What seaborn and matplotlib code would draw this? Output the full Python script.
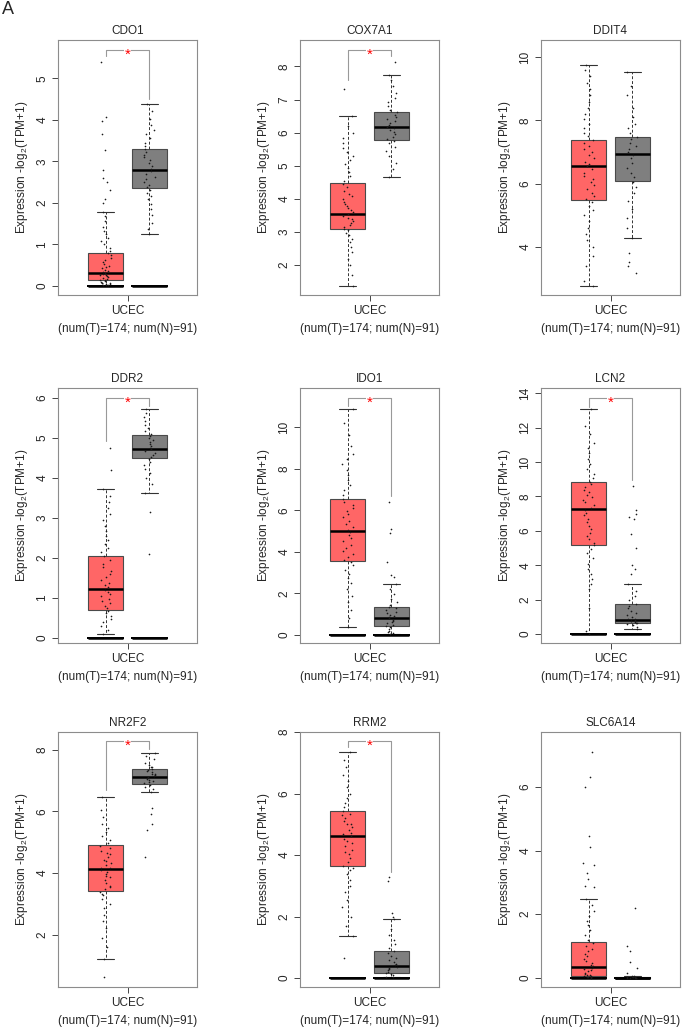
import numpy as np
import pandas as pd
import matplotlib
matplotlib.use("Agg")
import matplotlib.pyplot as plt
import seaborn as sns

# ---------------- data ----------------
genes = ["CDO1", "COX7A1", "DDIT4", "DDR2", "IDO1", "LCN2", "NR2F2", "RRM2", "SLC6A14"]

# box statistics: [lower whisker, Q1, median, Q3, upper whisker]
tumor_box = [
    [0.00, 0.14, 0.30, 0.80, 1.78],
    [1.37, 3.08, 3.56, 4.47, 6.51],
    [2.76, 5.49, 6.56, 7.39, 9.77],
    [0.09, 0.69, 1.21, 2.05, 3.73],
    [0.37, 3.58, 5.02, 6.52, 10.86],
    [0.00, 5.19, 7.24, 8.84, 13.07],
    [1.22, 3.41, 4.12, 4.90, 6.46],
    [1.36, 3.63, 4.63, 5.44, 7.35],
    [0.00, 0.06, 0.35, 1.12, 2.49],
]
normal_box = [
    [1.24, 2.36, 2.78, 3.30, 4.38],
    [4.65, 5.78, 6.18, 6.63, 7.74],
    [4.28, 6.08, 6.94, 7.48, 9.53],
    [3.63, 4.49, 4.73, 5.07, 5.73],
    [0.05, 0.42, 0.81, 1.36, 2.44],
    [0.29, 0.62, 0.81, 1.74, 2.93],
    [6.61, 6.89, 7.11, 7.37, 7.89],
    [0.02, 0.17, 0.39, 0.88, 1.93],
    [0.00, 0.00, 0.00, 0.03, 0.07],
]

# individual samples (read approximately)
cdo1_t = [0.01, 0.02, 0.03, 0.04, 0.05, 0.06, 0.07, 0.08, 0.10, 0.12, 0.13, 0.15, 0.17, 0.19, 0.21,
          0.23, 0.25, 0.27, 0.29, 0.31, 0.33, 0.36, 0.39, 0.42, 0.45, 0.49, 0.53, 0.58, 0.63, 0.68,
          0.74, 0.79, 0.85, 0.92, 1.0, 1.08, 1.16, 1.25, 1.33, 1.42, 1.55, 1.68, 1.77, 2.0, 2.1, 2.3,
          2.5, 2.6, 2.78, 3.27, 3.65, 3.97, 4.07, 5.4]
cdo1_n = [1.24, 1.38, 1.52, 1.70, 1.85, 1.98, 2.08, 2.16, 2.24, 2.31, 2.37, 2.43, 2.50, 2.57, 2.63,
          2.70, 2.76, 2.82, 2.88, 2.95, 3.02, 3.10, 3.16, 3.22, 3.29, 3.36, 3.45, 3.56, 3.66, 3.75,
          3.88, 4.02, 4.2, 4.38]
cox7a1_t = [1.37, 1.7, 2.0, 2.2, 2.4, 2.55, 2.7, 2.8, 2.9, 2.98, 3.05, 3.1, 3.15, 3.2, 3.26, 3.32,
            3.38, 3.44, 3.5, 3.55, 3.6, 3.66, 3.72, 3.78, 3.85, 3.92, 4.0, 4.08, 4.16, 4.25, 4.35,
            4.45, 4.55, 4.68, 4.8, 4.92, 5.05, 5.18, 5.3, 5.42, 5.55, 5.7, 5.85, 6.0, 6.2, 6.51, 7.33]
cox7a1_n = [4.65, 4.9, 5.1, 5.3, 5.45, 5.58, 5.68, 5.76, 5.82, 5.88, 5.95, 6.02, 6.08, 6.13, 6.18,
            6.23, 6.28, 6.34, 6.4, 6.47, 6.55, 6.62, 6.7, 6.8, 6.92, 7.05, 7.2, 7.4, 7.6, 7.74, 8.14]
ddit4_t = [2.76, 2.9, 3.4, 3.7, 4.0, 4.2, 4.4, 4.6, 4.8, 5.0, 5.15, 5.3, 5.42, 5.5, 5.6, 5.7, 5.82,
           5.95, 6.05, 6.15, 6.25, 6.35, 6.45, 6.55, 6.62, 6.7, 6.8, 6.9, 7.0, 7.1, 7.2, 7.3, 7.38,
           7.5, 7.6, 7.75, 7.9, 8.05, 8.2, 8.4, 8.6, 8.8, 9.0, 9.2, 9.4, 9.6, 9.77]
ddit4_n = [3.16, 3.4, 3.5, 3.79, 4.28, 4.6, 4.9, 5.2, 5.45, 5.7, 5.9, 6.05, 6.2, 6.35, 6.5, 6.65,
           6.8, 6.9, 7.0, 7.1, 7.2, 7.3, 7.4, 7.48, 7.6, 7.75, 7.9, 8.1, 8.4, 8.8, 9.1, 9.53]
ddr2_t = [0.09, 0.2, 0.3, 0.4, 0.48, 0.55, 0.62, 0.68, 0.74, 0.8, 0.86, 0.92, 0.98, 1.04, 1.1, 1.15,
          1.2, 1.26, 1.32, 1.38, 1.45, 1.52, 1.6, 1.68, 1.76, 1.85, 1.95, 2.04, 2.15, 2.25, 2.35,
          2.45, 2.55, 2.68, 2.8, 2.95, 3.1, 3.25, 3.4, 3.55, 3.73, 4.21, 4.75]
ddr2_n = [2.09, 3.16, 3.63, 3.85, 4.0, 4.12, 4.22, 4.32, 4.4, 4.47, 4.52, 4.57, 4.62, 4.67, 4.72,
          4.76, 4.8, 4.85, 4.9, 4.95, 5.0, 5.05, 5.1, 5.17, 5.25, 5.33, 5.42, 5.52, 5.62, 5.73]
ido1_t = [0.37, 0.8, 1.2, 1.6, 1.9, 2.2, 2.5, 2.75, 2.95, 3.15, 3.35, 3.5, 3.62, 3.75, 3.9, 4.05,
          4.2, 4.35, 4.5, 4.65, 4.8, 4.95, 5.05, 5.2, 5.35, 5.5, 5.65, 5.8, 5.95, 6.1, 6.25, 6.4,
          6.55, 6.75, 6.95, 7.2, 7.45, 7.7, 7.95, 8.2, 8.45, 8.7, 9.1, 9.6, 10.2, 10.86]
ido1_n = [0.05, 0.1, 0.15, 0.22, 0.3, 0.38, 0.44, 0.5, 0.56, 0.62, 0.68, 0.74, 0.8, 0.86, 0.92,
          0.98, 1.05, 1.12, 1.2, 1.28, 1.35, 1.45, 1.58, 1.75, 1.95, 2.2, 2.44, 2.8, 2.9, 3.5, 4.9,
          5.1, 6.41]
lcn2_t = [0.0, 0.2, 1.5, 2.6, 2.9, 3.2, 3.5, 3.8, 4.1, 4.4, 4.7, 4.95, 5.15, 5.3, 5.5, 5.7, 5.9,
          6.1, 6.3, 6.5, 6.7, 6.9, 7.05, 7.2, 7.35, 7.5, 7.65, 7.8, 7.95, 8.1, 8.25, 8.4, 8.55, 8.7,
          8.85, 9.05, 9.3, 9.6, 9.9, 10.2, 10.5, 10.8, 11.1, 11.6, 12.1, 13.07]
lcn2_n = [0.29, 0.4, 0.5, 0.56, 0.62, 0.66, 0.7, 0.74, 0.78, 0.81, 0.85, 0.9, 0.98, 1.08, 1.2,
          1.35, 1.5, 1.65, 1.74, 1.95, 2.2, 2.5, 2.93, 3.5, 3.8, 4.0, 5.0, 5.8, 6.7, 6.8, 7.0, 7.2,
          8.6]
nr2f2_t = [0.61, 1.22, 1.6, 1.9, 2.2, 2.45, 2.65, 2.85, 3.0, 3.15, 3.28, 3.3, 3.38, 3.48, 3.55,
           3.58, 3.68, 3.78, 3.87, 3.9, 3.95, 4.03, 4.1, 4.15, 4.17, 4.25, 4.33, 4.4, 4.42, 4.5,
           4.6, 4.65, 4.7, 4.8, 4.88, 4.97, 5.08, 5.2, 5.32, 5.45, 5.6, 5.8, 6.05, 6.46]
nr2f2_n = [4.52, 5.4, 5.6, 5.9, 6.1, 6.61, 6.72, 6.8, 6.86, 6.92, 6.95, 6.97, 7.02, 7.06, 7.08,
           7.1, 7.14, 7.18, 7.2, 7.22, 7.27, 7.32, 7.35, 7.37, 7.43, 7.45, 7.5, 7.58, 7.68, 7.78,
           7.89]
rrm2_t = [0.65, 1.36, 1.7, 2.0, 2.3, 2.55, 2.8, 3.0, 3.2, 3.38, 3.52, 3.58, 3.65, 3.78, 3.9, 4.02,
          4.1, 4.15, 4.28, 4.4, 4.45, 4.52, 4.62, 4.68, 4.72, 4.82, 4.92, 5.0, 5.02, 5.12, 5.22,
          5.3, 5.32, 5.42, 5.55, 5.7, 5.85, 6.0, 6.2, 6.4, 6.6, 6.85, 7.1, 7.35]
rrm2_n = [0.02, 0.05, 0.09, 0.13, 0.17, 0.21, 0.25, 0.29, 0.33, 0.37, 0.41, 0.46, 0.52, 0.58, 0.65,
          0.72, 0.8, 0.88, 0.98, 1.1, 1.25, 1.4, 1.6, 1.93, 2.0, 2.1, 3.15, 3.28]
slc6a14_t = [0.0, 0.01, 0.02, 0.03, 0.04, 0.05, 0.06, 0.08, 0.1, 0.13, 0.16, 0.2, 0.24, 0.28, 0.32,
             0.36, 0.4, 0.46, 0.52, 0.6, 0.68, 0.76, 0.84, 0.92, 1.0, 1.1, 1.2, 1.35, 1.5, 1.65,
             1.8, 1.95, 2.1, 2.3, 2.49, 2.85, 2.9, 3.1, 3.3, 3.55, 3.6, 4.1, 4.45, 6.0, 6.3, 7.1]
slc6a14_n = [0, 0, 0, 0, 0, 0.01, 0.01, 0.02, 0.03, 0.04, 0.05, 0.07, 0.15, 0.3, 0.5, 0.85, 1.0, 2.2]

tumor_pts = [cdo1_t, cox7a1_t, ddit4_t, ddr2_t, ido1_t, lcn2_t, nr2f2_t, rrm2_t, slc6a14_t]
normal_pts = [cdo1_n, cox7a1_n, ddit4_n, ddr2_n, ido1_n, lcn2_n, nr2f2_n, rrm2_n, slc6a14_n]

# zero-valued reference bar present under the boxes
zero_line = [True, False, False, True, True, True, False, True, True]

# significance bracket: [left arm end, top, right arm end] (None = not significant)
bracket = [
    [5.53, 5.67, 4.50],
    [7.59, 8.51, 8.31],
    None,
    [4.92, 6.00, 5.80],
    [11.00, 11.39, 6.68],
    [13.20, 13.73, 8.98],
    [6.68, 8.29, 8.03],
    [7.50, 7.71, 3.45],
    None,
]

y_limits = [(-0.22, 5.92), (1.10, 8.80), (2.47, 10.55), (-0.13, 6.25), (-0.38, 11.87),
            (-0.52, 14.3), (0.30, 8.57), (-0.29, 8.0), (-0.29, 7.73)]
y_ticks = [[0, 1, 2, 3, 4, 5], [2, 3, 4, 5, 6, 7, 8], [4, 6, 8, 10], [0, 1, 2, 3, 4, 5, 6],
           [0, 2, 4, 6, 8, 10], [0, 2, 4, 6, 8, 10, 12, 14], [2, 4, 6, 8], [0, 2, 4, 6, 8],
           [0, 2, 4, 6]]

cancer = "UCEC"
count_label = "(num(T)=174; num(N)=91)"
groups = ["Tumor", "Normal"]
colors = {"Tumor": "#FF6666", "Normal": "#7F7F7F"}

# ---------------- style ----------------
sns.set_style("white")
plt.rcParams["font.family"] = ["Liberation Sans", "DejaVu Sans"]
plt.rcParams["mathtext.fontset"] = "custom"
plt.rcParams["mathtext.rm"] = "Liberation Sans"
plt.rcParams["mathtext.it"] = "Liberation Sans:italic"
plt.rcParams["mathtext.bf"] = "Liberation Sans:bold"

W, H = 686, 1028
fig = plt.figure(figsize=(W / 100, H / 100), dpi=100)
col_left = [58, 300, 541]
row_top = [40, 388, 732]
aw, ah = 139, 255
np.random.seed(3)

for i, gene in enumerate(genes):
    r, c = divmod(i, 3)
    ax = fig.add_axes([col_left[c] / W, 1 - (row_top[r] + ah) / H, aw / W, ah / H])

    box_df = pd.DataFrame({"group": ["Tumor"] * 5 + ["Normal"] * 5,
                           "value": tumor_box[i] + normal_box[i]})
    sns.boxplot(data=box_df, x="group", y="value", hue="group", order=groups,
                hue_order=groups, palette=colors, legend=False, whis=(0, 100), width=0.8,
                showfliers=False, saturation=1, linecolor="#4a4a4a", linewidth=0.8,
                medianprops=dict(color="black", linewidth=1.8),
                whiskerprops=dict(linestyle=(0, (3, 2)), color="#333333", linewidth=0.7),
                capprops=dict(color="#333333", linewidth=0.8), ax=ax)

    if zero_line[i]:
        zero_df = pd.DataFrame({"group": ["Tumor"] * 3 + ["Normal"] * 3, "value": [0.0] * 6})
        sns.boxplot(data=zero_df, x="group", y="value", order=groups, whis=(0, 100),
                    width=0.8, showfliers=False, fill=False, color="black", linecolor="black",
                    linewidth=1.4, medianprops=dict(color="black", linewidth=1.8), ax=ax)

    pts_df = pd.DataFrame({"group": ["Tumor"] * len(tumor_pts[i]) + ["Normal"] * len(normal_pts[i]),
                           "value": tumor_pts[i] + normal_pts[i]})
    sns.stripplot(data=pts_df, x="group", y="value", order=groups, color="#1a1a1a", size=1.2,
                  jitter=0.13, linewidth=0, ax=ax)

    if bracket[i] is not None:
        lft, top, rgt = bracket[i]
        ax.plot([0, 0, 1, 1], [lft, top, top, rgt], color="#999999", lw=0.8)
        ax.annotate("*", xy=(0.5, top), xytext=(0, -3.5), textcoords="offset points",
                    ha="center", va="center", color="red", fontsize=11,
                    bbox=dict(facecolor="white", edgecolor="none", pad=0.3))

    ax.set_xlim(-1.1, 2.1)
    ax.set_ylim(*y_limits[i])
    ax.set_yticks(y_ticks[i])
    ax.set_yticklabels([str(t) for t in y_ticks[i]])
    ax.set_xticks([0.5])
    ax.set_xticklabels([cancer])
    ax.set_title(gene, fontsize=8.5, pad=4)
    ax.set_ylabel("Expression -log$_2$(TPM+1)", fontsize=8.5)
    ax.yaxis.set_label_coords(-0.205, 0.5)
    ax.set_xlabel(count_label, fontsize=8.5)
    ax.xaxis.set_label_coords(0.5, -0.108)
    ax.tick_params(axis="both", bottom=True, left=True, direction="out", length=4, width=0.7,
                   color="#444444", labelsize=8.5, pad=3)
    ax.tick_params(axis="y", labelrotation=90)
    for lab in ax.get_yticklabels():
        lab.set_va("center")
    for sp in ax.spines.values():
        sp.set_color("#8c8c8c")
        sp.set_linewidth(0.8)

fig.text(0.003, 0.999, "A", fontsize=13, ha="left", va="top")
fig.savefig("out.png", dpi=100)
